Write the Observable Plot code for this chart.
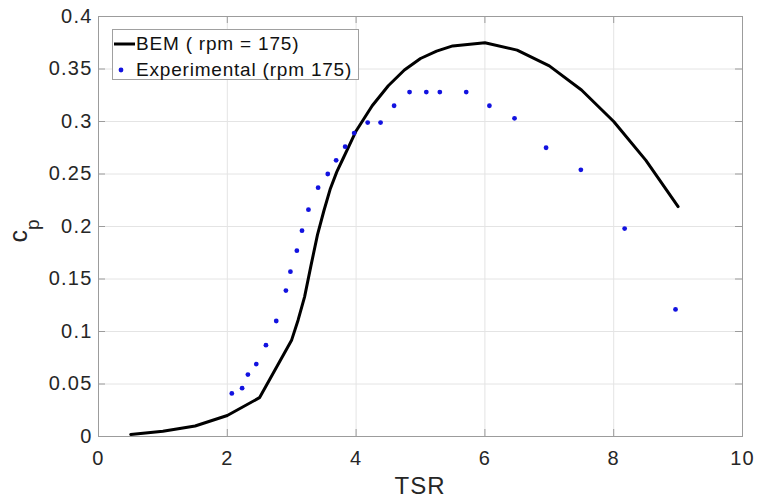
<!DOCTYPE html>
<html>
<head>
<meta charset="utf-8">
<script src="https://cdn.jsdelivr.net/npm/d3@7"></script>
<script src="https://cdn.jsdelivr.net/npm/@observablehq/plot@0.6"></script>
<style>
  html, body { margin: 0; padding: 0; background: white; }
  #wrap { position: relative; width: 757px; height: 503px; font-family: "Liberation Sans", Arial, sans-serif; }
  #legend { position: absolute; left: 112px; top: 29px; width: 245px; height: 49px; border: 1px solid #a0a0a0; background: white; box-sizing: content-box; }
  #legend .row { position: absolute; left: 0; height: 24px; line-height: 24px; font-size: 19px; letter-spacing: 0.8px; color: #111; white-space: nowrap; }
  #legend svg { position: absolute; left: 0; top: 0; }
</style>
</head>
<body>
<div id="wrap"></div>
<script>
// ---- data ----
const bemTSR = [0.5, 1, 1.5, 2, 2.5, 3, 3.1, 3.2, 3.3, 3.4, 3.5, 3.6, 3.7, 3.8, 3.9, 4, 4.25, 4.5, 4.75, 5, 5.25, 5.5, 6, 6.5, 7, 7.5, 8, 8.5, 9];
const bemCp  = [0.002, 0.005, 0.01, 0.02, 0.037, 0.092, 0.111, 0.133, 0.163, 0.192, 0.215, 0.236, 0.252, 0.265, 0.278, 0.291, 0.315, 0.334, 0.349, 0.360, 0.367, 0.372, 0.375, 0.368, 0.353, 0.330, 0.300, 0.263, 0.219];

const expTSR = [2.07, 2.23, 2.32, 2.45, 2.60, 2.76, 2.91, 2.98, 3.08, 3.16, 3.26, 3.41, 3.56, 3.69, 3.83, 3.97, 4.18, 4.38, 4.59, 4.83, 5.09, 5.30, 5.71, 6.07, 6.46, 6.95, 7.49, 8.17, 8.96];
const expCp  = [0.041, 0.046, 0.059, 0.069, 0.087, 0.110, 0.139, 0.157, 0.177, 0.196, 0.216, 0.237, 0.250, 0.263, 0.276, 0.289, 0.299, 0.299, 0.315, 0.328, 0.328, 0.328, 0.328, 0.315, 0.303, 0.275, 0.254, 0.198, 0.121];

const xTicks = [0, 2, 4, 6, 8, 10];
const yTicks = [0, 0.05, 0.1, 0.15, 0.2, 0.25, 0.3, 0.35, 0.4];
const seriesNames = ["BEM ( rpm = 175)", "Experimental (rpm 175)"];
const xLabel = "TSR";
const yLabelMain = "c";
const yLabelSub = "p";

const bem = bemTSR.map((t, i) => ({tsr: t, cp: bemCp[i]}));
const exp = expTSR.map((t, i) => ({tsr: t, cp: expCp[i]}));

// ---- layout ----
const W = 757, H = 503;
const mL = 98, mR = 15, mT = 16, mB = 67;
const frameW = W - mL - mR, frameH = H - mT - mB;
const tick = 7;
const axisColor = "#9c9c9c";
const gridColor = "#e4e4e4";
const textColor = "#262626";

const plot = Plot.plot({
  width: W, height: H,
  marginLeft: mL, marginRight: mR, marginTop: mT, marginBottom: mB,
  x: {domain: [0, 10]},
  y: {domain: [0, 0.4]},
  style: {fontFamily: "'Liberation Sans', Arial, sans-serif", fontSize: "20px", color: textColor, background: "white", letterSpacing: "1.2px"},
  marks: [
    Plot.gridX(xTicks, {stroke: gridColor, strokeOpacity: 1}),
    Plot.gridY(yTicks, {stroke: gridColor, strokeOpacity: 1}),
    Plot.frame({stroke: axisColor}),
    Plot.tickX(xTicks, {x: d => d, insetTop: frameH - tick, stroke: axisColor}),
    Plot.tickX(xTicks, {x: d => d, insetBottom: frameH - tick, stroke: axisColor}),
    Plot.tickY(yTicks, {y: d => d, insetRight: frameW - tick, stroke: axisColor}),
    Plot.tickY(yTicks, {y: d => d, insetLeft: frameW - tick, stroke: axisColor}),
    Plot.axisX(xTicks, {tickSize: 0, tickPadding: 14, label: null, fill: textColor}),
    Plot.axisY(yTicks, {tickSize: 0, tickPadding: 6, label: null, fill: textColor, tickFormat: d => String(+d.toFixed(2))}),
    Plot.line(bem, {x: "tsr", y: "cp", stroke: "black", strokeWidth: 3}),
    Plot.dot(exp, {x: "tsr", y: "cp", r: 2.4, fill: "#1212e0", stroke: "none"})
  ]
});

const wrap = document.getElementById("wrap");
wrap.appendChild(plot);

// axis titles
const sx = plot.scale("x"), sy = plot.scale("y");
const svg = d3.select(plot);
const cx = (sx.range[0] + sx.range[1]) / 2;
const cy = (sy.range[0] + sy.range[1]) / 2;
svg.append("text")
  .attr("x", cx).attr("y", H - 9)
  .attr("text-anchor", "middle")
  .style("font-size", "24px").style("letter-spacing", "1px")
  .attr("fill", textColor)
  .text(xLabel);
const yl = svg.append("text")
  .attr("transform", `translate(27,${cy + 5}) rotate(-90)`)
  .attr("text-anchor", "middle")
  .style("font-size", "25px").style("letter-spacing", "0px")
  .attr("fill", textColor);
yl.append("tspan").text(yLabelMain);
yl.append("tspan").attr("dy", 12).style("font-size", "19px").text(yLabelSub);

// legend
const legend = document.createElement("div");
legend.id = "legend";
legend.innerHTML = `
  <svg width="40" height="49">
    <line x1="1" x2="22" y1="14" y2="14" stroke="black" stroke-width="3"></line>
    <circle cx="8" cy="40" r="2.4" fill="#1212e0"></circle>
  </svg>
  <div class="row" style="left:23px; top:2px;">${seriesNames[0]}</div>
  <div class="row" style="left:23px; top:28px;">${seriesNames[1]}</div>`;
wrap.appendChild(legend);
</script>
</body>
</html>
